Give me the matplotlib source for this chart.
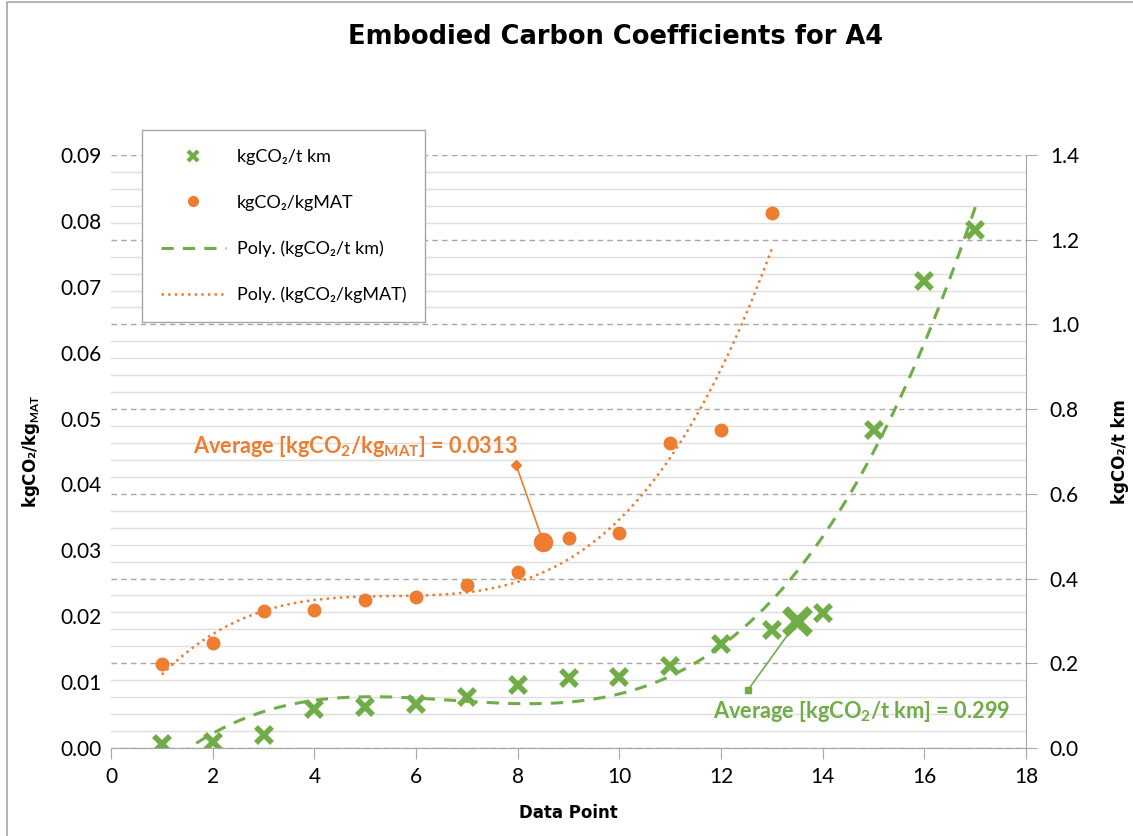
import numpy as np
import matplotlib
matplotlib.use("Agg")
import matplotlib.pyplot as plt
from matplotlib.lines import Line2D
from matplotlib.patches import Rectangle

plt.rcParams['font.family'] = ['Lato', 'DejaVu Sans']
plt.rcParams['mathtext.fontset'] = 'custom'
plt.rcParams['mathtext.rm'] = 'Lato'
plt.rcParams['mathtext.bf'] = 'Lato:bold'

GREEN = "#70AD47"
ORANGE = "#ED7D31"

# data
points = np.arange(1, 18)
per_tkm = [0.010, 0.014, 0.031, 0.092, 0.097, 0.104, 0.120, 0.149, 0.165,
           0.168, 0.194, 0.246, 0.279, 0.319, 0.751, 1.103, 1.223]
mat_points = np.arange(1, 14)
per_kgmat = [0.0127, 0.0159, 0.0208, 0.0209, 0.0225, 0.0229, 0.0247,
             0.0267, 0.0319, 0.0326, 0.0463, 0.0483, 0.0812]
avg_mat_x, avg_mat = 8.5, 0.0313
avg_tkm_x, avg_tkm = 13.5, 0.299

# polynomial trendlines (Excel "Poly.", order 3)
mat_fit = np.polyfit(mat_points, per_kgmat, 3)
tkm_fit = np.polyfit(points, per_tkm, 3)
xm = np.linspace(1, 13, 300)
xt = np.linspace(1, 17, 300)

fig = plt.figure(figsize=(11.33, 8.36), dpi=100)
ax = fig.add_axes([0.098, 0.1053, 0.8077, 0.7093])
ax2 = ax.twinx()
ax.set_zorder(ax2.get_zorder() + 1)
ax.patch.set_visible(False)

# right axis: gridlines + green series
ax2.set_ylim(0, 1.4)
ax2.set_yticks(np.arange(0, 1.41, 0.2))
ax2.set_yticks(np.arange(0, 1.41, 0.04), minor=True)
ax2.grid(True, which='major', axis='y', color='#a6a6a6', linestyle=(0, (4, 3)), lw=1)
ax2.grid(True, which='minor', axis='y', color='#dedede', linestyle='-', lw=1)
ax2.set_axisbelow(True)
ax2.plot(points, per_tkm, linestyle='none', marker='x', ms=12, mew=4, color=GREEN)
ax2.plot(xt, np.polyval(tkm_fit, xt), linestyle=(0, (4, 3)), lw=2.2, color=GREEN)
ax2.plot([avg_tkm_x], [avg_tkm], marker='x', ms=18, mew=6, color=GREEN)
ax2.plot([12.53, avg_tkm_x], [0.137, avg_tkm], color=GREEN, lw=1.2,
         marker='s', ms=5, markevery=[0])
ax2.text(11.84, 0.087, r"Average [kgCO$_\mathbf{2}$/t km] = 0.299", color=GREEN,
         fontsize=15.7, fontweight='bold', ha='left', va='center')
ax2.tick_params(axis='y', which='major', length=8, color='#a6a6a6', pad=9, labelsize=15)
ax2.tick_params(axis='y', which='minor', length=0)
ax2.yaxis.set_major_formatter(matplotlib.ticker.FormatStrFormatter('%.1f'))
ax2.set_ylabel("kgCO₂/t km", family='DejaVu Sans', fontweight='bold', fontsize=12)
ax2.yaxis.set_label_coords(1.093, 0.5)

# left axis: orange series
ax.set_xlim(0, 18)
ax.set_ylim(0, 0.09)
ax.set_xticks(np.arange(0, 19, 2))
ax.set_yticks(np.arange(0, 0.091, 0.01))
ax.yaxis.set_major_formatter(matplotlib.ticker.FormatStrFormatter('%.2f'))
ax.plot(mat_points, per_kgmat, linestyle='none', marker='o', ms=9, color=ORANGE)
ax.plot(xm, np.polyval(mat_fit, xm), linestyle=':', lw=1.8, color=ORANGE)
ax.plot([avg_mat_x], [avg_mat], marker='o', ms=13, color=ORANGE)
ax.plot([7.97, avg_mat_x], [0.0429, avg_mat], color=ORANGE, lw=1.2,
        marker='D', ms=5, markevery=[0])
ax.text(1.61, 0.0457, r"Average [kgCO$_\mathbf{2}$/kg$_\mathbf{MAT}$] = 0.0313", color=ORANGE,
        fontsize=15.7, fontweight='bold', ha='left', va='center')
ax.tick_params(axis='y', length=0, pad=7, labelsize=15)
ax.tick_params(axis='x', length=8, color='#a6a6a6', pad=6, labelsize=15)
ax.set_xlabel("Data Point", family='DejaVu Sans', fontweight='bold', fontsize=12)
ax.xaxis.set_label_coords(0.5, -0.095)
ax.set_ylabel(r"kgCO₂/kg$_\mathbf{MAT}$", family='DejaVu Sans', fontweight='bold', fontsize=12)
ax.yaxis.set_label_coords(-0.075, 0.5)

for a in (ax, ax2):
    a.spines['top'].set_visible(False)
    a.spines['left'].set_visible(False)
    a.spines['right'].set_color('#a6a6a6')
    a.spines['bottom'].set_color('#a6a6a6')
ax.spines['right'].set_visible(False)

handles = [
    Line2D([], [], linestyle='none', marker='x', ms=7, mew=3, color=GREEN),
    Line2D([], [], linestyle='none', marker='o', ms=7, color=ORANGE),
    Line2D([], [], linestyle=(0, (4, 3)), lw=2.2, color=GREEN),
    Line2D([], [], linestyle=':', lw=1.8, color=ORANGE),
]
labels = ["kgCO₂/t km", "kgCO₂/kgMAT", "Poly. (kgCO₂/t km)", "Poly. (kgCO₂/kgMAT)"]
fig.legend(handles, labels, loc='upper left', bbox_to_anchor=(0.1253, 0.8445),
           fontsize=13, frameon=True, fancybox=False, edgecolor='#a6a6a6',
           framealpha=1, labelspacing=1.65, handlelength=3.6, handletextpad=0.6,
           borderpad=1.05, borderaxespad=0)

fig.text(616 / 1133, 1 - 37 / 836, "Embodied Carbon Coefficients for A4",
         family='DejaVu Sans', fontweight='bold', fontsize=18.5, ha='center', va='center')

fig.patches.append(Rectangle((7 / 1133, -0.1), 1.2, 1.1 - 2 / 836, transform=fig.transFigure,
                             fill=False, edgecolor='#a6a6a6', lw=1.2))

fig.savefig("out.png", dpi=100)
